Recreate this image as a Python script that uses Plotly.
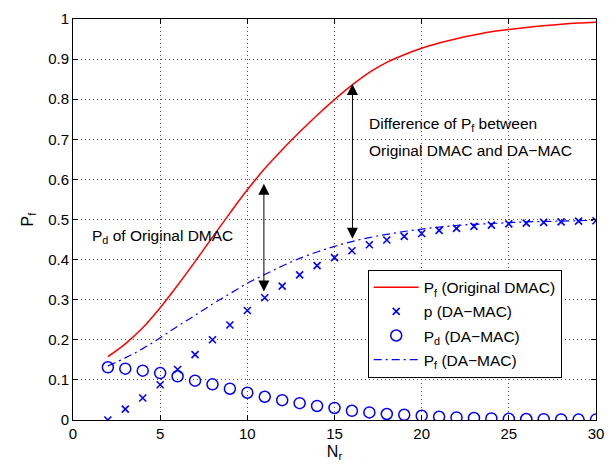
import plotly.graph_objects as go

# Number of relays
n_r = list(range(2, 31))

# False-alarm probability of the original DMAC
pf_original = [0.158, 0.190, 0.230, 0.280, 0.336, 0.395, 0.456, 0.516, 0.574, 0.627,
               0.674, 0.718, 0.760, 0.799, 0.835, 0.867, 0.892, 0.911, 0.927, 0.940,
               0.951, 0.960, 0.968, 0.974, 0.979, 0.983, 0.987, 0.990, 0.992]

# p of DA-MAC
p_damac = [0.000, 0.027, 0.055, 0.088, 0.126, 0.163, 0.200, 0.237, 0.273, 0.305,
           0.334, 0.362, 0.385, 0.405, 0.422, 0.437, 0.449, 0.458, 0.465, 0.473,
           0.478, 0.483, 0.486, 0.489, 0.491, 0.493, 0.494, 0.496, 0.497]

# Detection probability of DA-MAC
pd_damac = [0.1315, 0.128, 0.123, 0.117, 0.109, 0.098, 0.089, 0.078, 0.068, 0.058,
            0.0495, 0.042, 0.035, 0.030, 0.023, 0.019, 0.015, 0.013, 0.0105, 0.008,
            0.0065, 0.005, 0.004, 0.003, 0.0025, 0.002, 0.0015, 0.001, 0.001]

# False-alarm probability of DA-MAC
pf_damac = [0.135, 0.155, 0.178, 0.205, 0.234, 0.261, 0.289, 0.315, 0.341, 0.363,
            0.384, 0.403, 0.419, 0.433, 0.445, 0.455, 0.463, 0.470, 0.476, 0.481,
            0.485, 0.488, 0.490, 0.492, 0.494, 0.495, 0.496, 0.497, 0.498]

x_ticks = [0, 5, 10, 15, 20, 25, 30]
y_ticks = [0, 0.1, 0.2, 0.3, 0.4, 0.5, 0.6, 0.7, 0.8, 0.9, 1]

FONT = "Liberation Sans, Arial, Helvetica, sans-serif"
BLUE = "#0000ff"
TXT = 15.5

fig = go.Figure()
fig.add_trace(go.Scatter(
    x=n_r, y=pf_original, mode="lines", name="P<sub>f</sub> (Original DMAC)",
    line=dict(color="#ff0000", width=1.5, shape="spline", smoothing=1.0),
    legendgroup="a"))
fig.add_trace(go.Scatter(
    x=n_r, y=p_damac, mode="markers", name="p (DA\u2212MAC)",
    marker=dict(symbol="x-thin-open", size=7, color=BLUE,
                line=dict(color=BLUE, width=1.6)), legendgroup="b"))
fig.add_trace(go.Scatter(
    x=n_r, y=pd_damac, mode="markers", name="P<sub>d</sub> (DA\u2212MAC)",
    marker=dict(symbol="circle-open", size=11, color=BLUE,
                line=dict(color=BLUE, width=1.5)), legendgroup="c"))
fig.add_trace(go.Scatter(
    x=n_r, y=pf_damac, mode="lines", name="P<sub>f</sub> (DA\u2212MAC)",
    line=dict(color=BLUE, width=1.2, dash="8px,4px,2px,4px",
              shape="spline", smoothing=1.0), legendgroup="d"))

# Double-headed arrows marking the gaps between the curves
arrows = [(10.95, 0.589, 0.317), (16.03, 0.838, 0.448)]
for ax_x, y_top, y_bot in arrows:
    fig.add_annotation(
        x=ax_x, y=y_top, ax=ax_x, ay=y_bot, xref="x", yref="y",
        axref="x", ayref="y", text="", showarrow=True,
        arrowside="end+start", arrowhead=2, startarrowhead=2,
        arrowsize=2.2, startarrowsize=2.2, arrowwidth=1, arrowcolor="#000000",
        standoff=0, startstandoff=0)

fig.add_annotation(x=0.97, y=0.458, xref="x", yref="y", xanchor="left",
                   yanchor="middle", showarrow=False,
                   text="P<sub>d</sub> of Original DMAC",
                   font=dict(family=FONT, size=TXT, color="#000000"))
fig.add_annotation(x=16.85, y=0.737, xref="x", yref="y", xanchor="left",
                   yanchor="middle", showarrow=False,
                   text="Difference of P<sub>f</sub> between",
                   font=dict(family=FONT, size=TXT, color="#000000"))
fig.add_annotation(x=16.85, y=0.672, xref="x", yref="y", xanchor="left",
                   yanchor="middle", showarrow=False,
                   text="Original DMAC and DA\u2212MAC",
                   font=dict(family=FONT, size=TXT, color="#000000"))

axis_common = dict(
    showline=True, linecolor="#000000", linewidth=1, mirror="ticks",
    ticks="inside", ticklen=5, tickcolor="#000000",
    showgrid=True, gridcolor="#555555", gridwidth=1, griddash="1px,3px",
    zeroline=False, tickfont=dict(family=FONT, size=15, color="#000000"))

fig.update_xaxes(range=[0, 30], tickvals=x_ticks,
                 title=dict(text="N<sub>r</sub>", standoff=4,
                            font=dict(family=FONT, size=16, color="#000000")),
                 **axis_common)
fig.update_yaxes(range=[0, 1], tickvals=y_ticks,
                 ticktext=[("%g" % v) for v in y_ticks],
                 title=dict(text="P<sub>f</sub>", standoff=10,
                            font=dict(family=FONT, size=16, color="#000000")),
                 **axis_common)

fig.update_layout(
    width=616, height=468,
    margin=dict(l=73, r=20, t=10, b=48),
    paper_bgcolor="#ffffff", plot_bgcolor="#ffffff",
    font=dict(family=FONT, size=TXT, color="#000000"),
    showlegend=True,
    legend=dict(x=0.5635, y=0.375, xanchor="left", yanchor="top",
                bgcolor="#ffffff", bordercolor="#000000", borderwidth=1,
                tracegroupgap=1, traceorder="grouped",
                font=dict(family=FONT, size=TXT, color="#000000"),
                itemwidth=45),
)

fig.write_html("out.html")
